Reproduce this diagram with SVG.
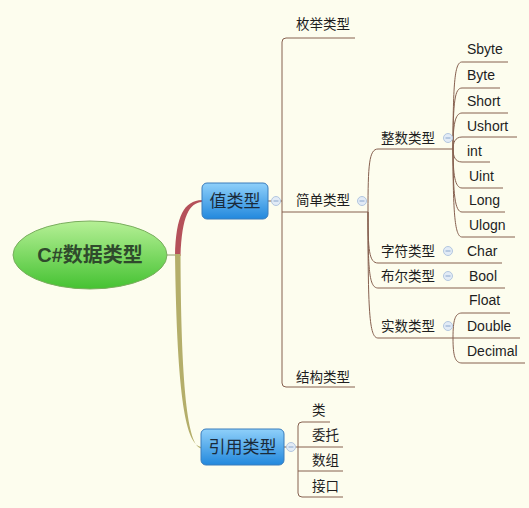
<svg xmlns="http://www.w3.org/2000/svg" width="529" height="508" viewBox="0 0 529 508">
<defs>
<linearGradient id="gBlue" x1="0" y1="0" x2="0" y2="1">
<stop offset="0" stop-color="#8fd0fa"/>
<stop offset="1" stop-color="#2288dd"/>
</linearGradient>
<linearGradient id="gGreen" x1="0" y1="0" x2="0" y2="1">
<stop offset="0" stop-color="#b6f096"/>
<stop offset="1" stop-color="#45c232"/>
</linearGradient>
<g id="minus">
<circle cx="0" cy="0" r="4.5" fill="#e2ebf6" stroke="#b3c7e0" stroke-width="1"/>
<line x1="-2.5" y1="0" x2="2.5" y2="0" stroke="#8aa6cc" stroke-width="1"/>
</g>
</defs>
<style>
.ln{fill:none;stroke:#86604f;stroke-width:1}
.t{font-family:"Liberation Sans","Noto Sans CJK SC",sans-serif;font-size:14px;fill:#1e1e1e}
.c{font-family:"Noto Sans CJK SC","Liberation Sans",sans-serif;font-size:13.5px;fill:#1e1e1e}
.box{stroke:#3a7cbc;stroke-width:1;fill:url(#gBlue)}
.bt{font-family:"Noto Sans CJK SC",sans-serif;font-size:17px;fill:#1a2a3a;text-anchor:middle}
</style>
<rect x="0" y="0" width="529" height="508" fill="#fdfdee"/>

<g id="connectors">
<line x1="167" y1="255" x2="178" y2="255" stroke="#8f9a6a" stroke-width="1"/>
<path d="M175,256 C176,215 184,201 202,200 L202,202 C189,203 182,216 180.5,256 Z" fill="#b5515a"/>
<path d="M175,254 C177,400 186,446 202,447 L202,448.5 C189,448 181,400 180.5,254 Z" fill="#b4ae6a"/>
<!-- value type branch -->
<line class="ln" x1="268" y1="201" x2="282" y2="201"/>
<path class="ln" d="M355,38 L286,38 Q282,38 282,42 L282,383 Q282,387 286,387 L355,387"/>
<line class="ln" x1="282" y1="212" x2="368" y2="212"/>
<!-- simple type sub-branches -->
<path class="ln" d="M368,212 C368,165 369,149 378,149 L453,149"/>
<path class="ln" d="M368,212 C368,250 369,263 378,263 L502,263"/>
<path class="ln" d="M368,212 C368,270 369,288 378,288 L505,288"/>
<path class="ln" d="M368,212 C368,310 369,338 378,338 L453,338"/>
<!-- integer leaves -->
<path class="ln" d="M453,149 C453,80 455,62 462,62 L508,62"/>
<path class="ln" d="M453,149 C453,100 455,88 462,88 L500,88"/>
<path class="ln" d="M453,149 C453,125 455,113 462,113 L508,113"/>
<path class="ln" d="M453,149 C453,143 455,137 462,137 L517,137"/>
<path class="ln" d="M453,149 C453,156 455,162 462,162 L490,162"/>
<path class="ln" d="M453,149 C453,175 455,188 462,188 L503,188"/>
<path class="ln" d="M453,149 C453,195 455,212 462,212 L505,212"/>
<path class="ln" d="M453,149 C453,215 455,237 462,237 L515,237"/>
<!-- real leaves -->
<path class="ln" d="M453,338 C453,320 455,313 462,313 L510,313"/>
<line class="ln" x1="453" y1="338" x2="520" y2="338"/>
<path class="ln" d="M453,338 C453,356 455,363 462,363 L525,363"/>
<!-- reference type branch -->
<line class="ln" x1="284" y1="447" x2="343" y2="447"/>
<path class="ln" d="M330,422 L302,422 Q298,422 298,426 L298,493 Q298,497 302,497 L343,497"/>
<line class="ln" x1="298" y1="471" x2="343" y2="471"/>
</g>

<g id="root">
<ellipse cx="90" cy="255" rx="77" ry="34" fill="url(#gGreen)" stroke="#7aad5e" stroke-width="1"/>
<text x="90" y="262" text-anchor="middle" font-family="Liberation Sans,'Noto Sans CJK SC',sans-serif" font-size="20" font-weight="bold" fill="#2f4a2c">C#数据类型</text>
</g>

<g id="value-type">
<rect class="box" x="202" y="183" width="66" height="36" rx="5"/>
<text class="bt" x="235" y="207">值类型</text>
<use href="#minus" x="276" y="201"/>
</g>
<g id="ref-type">
<rect class="box" x="201" y="429" width="83" height="36" rx="5"/>
<text class="bt" x="242.5" y="453">引用类型</text>
<use href="#minus" x="291" y="447"/>
</g>

<g id="enum"><text class="c" x="296" y="29">枚举类型</text></g>
<g id="simple"><text class="c" x="296" y="205">简单类型</text><use href="#minus" x="362" y="201"/></g>
<g id="struct"><text class="c" x="296" y="382">结构类型</text></g>

<g id="int-type"><text class="c" x="381" y="143">整数类型</text><use href="#minus" x="448" y="138"/></g>
<g id="char-type"><text class="c" x="381" y="256">字符类型</text><use href="#minus" x="448" y="251"/></g>
<g id="bool-type"><text class="c" x="381" y="281">布尔类型</text><use href="#minus" x="448" y="276"/></g>
<g id="real-type"><text class="c" x="381" y="331">实数类型</text><use href="#minus" x="448" y="326"/></g>

<g id="sbyte"><text class="t" x="467" y="54">Sbyte</text></g>
<g id="byte"><text class="t" x="467" y="80">Byte</text></g>
<g id="short"><text class="t" x="467" y="106">Short</text></g>
<g id="ushort"><text class="t" x="467" y="131">Ushort</text></g>
<g id="int"><text class="t" x="467" y="156">int</text></g>
<g id="uint"><text class="t" x="469" y="181">Uint</text></g>
<g id="long"><text class="t" x="469" y="205">Long</text></g>
<g id="ulogn"><text class="t" x="469" y="230">Ulogn</text></g>
<g id="char"><text class="t" x="467" y="256">Char</text></g>
<g id="bool"><text class="t" x="469" y="281">Bool</text></g>
<g id="float"><text class="t" x="469" y="305">Float</text></g>
<g id="double"><text class="t" x="467" y="331">Double</text></g>
<g id="decimal"><text class="t" x="467" y="356">Decimal</text></g>

<g id="class"><text class="c" x="312" y="415">类</text></g>
<g id="delegate"><text class="c" x="312" y="440">委托</text></g>
<g id="array"><text class="c" x="312" y="465">数组</text></g>
<g id="interface"><text class="c" x="312" y="491">接口</text></g>
</svg>
